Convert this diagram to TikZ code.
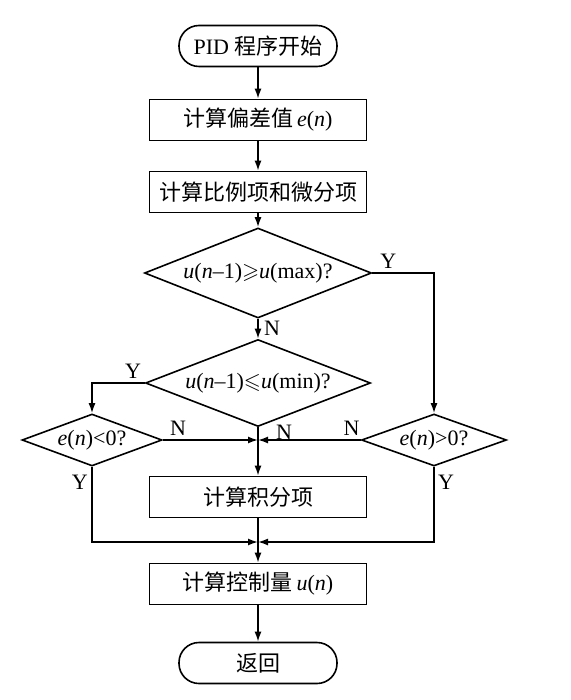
\documentclass[tikz,border=0pt]{standalone}
\usepackage{amssymb}
\usepackage{fontspec}
\setmainfont{Liberation Serif}
\newfontfamily\cjk{Noto Sans CJK SC}
\usetikzlibrary{arrows.meta,shapes.geometric}
\newcommand{\zh}[1]{{\cjk #1}}

\begin{document}
\begin{tikzpicture}[x=1pt, y=-1pt, line width=1.6pt,
  font=\fontsize{22}{26}\selectfont,
  proc/.style={draw, minimum width=217pt, minimum height=41pt, inner sep=0pt},
  term/.style={draw, rounded corners=20pt, minimum width=158pt, minimum height=41pt, inner sep=0pt},
  decide/.style={draw, diamond, inner sep=0pt},
  flow/.style={-{Latex[length=10pt,width=7pt]}}]
  \useasboundingbox (0,0) rectangle (570,700);

  % main column
  \node[term] (start) at (258,46) {PID \zh{程序开始}};
  \node[proc] (dev) at (258,120) {\zh{计算偏差值}\,\textit{e}(\textit{n})};
  \node[proc] (pd) at (258,192) {\zh{计算比例项和微分项}};
  \node[decide, aspect=2.52, minimum width=227pt, minimum height=90pt]
    (dmax) at (258,273) {\textit{u}(\textit{n}–1)$\geqslant$\textit{u}(max)?};
  \node[decide, aspect=2.59, minimum width=225pt, minimum height=87pt]
    (dmin) at (258,383) {\textit{u}(\textit{n}–1)$\leqslant$\textit{u}(min)?};
  \node[decide, aspect=2.7, inner xsep=-9pt, inner ysep=-1pt, minimum width=140pt, minimum height=52pt]
    (eneg) at (92,440) {\textit{e}(\textit{n})<0?};
  \node[decide, aspect=2.8, inner xsep=-9pt, inner ysep=-1pt, minimum width=145pt, minimum height=52pt]
    (epos) at (434,440) {\textit{e}(\textit{n})>0?};
  \node[proc] (integ) at (258,497) {\zh{计算积分项}};
  \node[proc] (ctrl) at (258,584) {\zh{计算控制量}\,\textit{u}(\textit{n})};
  \node[term] (ret) at (258,663) {\zh{返回}};

  \coordinate (j1) at (258,440);
  \coordinate (j2) at (258,542);

  % connectors
  \draw[flow] (start) -- (dev);
  \draw[flow] (dev) -- (pd);
  \draw[flow] (pd) -- (dmax);
  \draw[flow] (dmax.east) -| node[pos=0.13, above] {Y} (epos.north);
  \draw[flow] (dmax.south) -- node[right=2pt] {N} (dmin.north);
  \draw[flow] (dmin.west) -| node[pos=0.11, above] {Y} (eneg.north);
  \draw (dmin.south) -- node[right=14pt, pos=0.4] {N} (j1);
  \draw[flow] (eneg.east) -- node[pos=0.16, above] {N} (j1);
  \draw[flow] (epos.west) -- node[pos=0.09, above] {N} (j1);
  \draw[flow] (j1) -- (integ);
  \draw (integ) -- (j2);
  \draw[flow] (eneg.south) |- node[pos=0.1, left] {Y} (j2);
  \draw[flow] (epos.south) |- node[pos=0.1, right] {Y} (j2);
  \draw[flow] (j2) -- (ctrl);
  \draw[flow] (ctrl) -- (ret);
\end{tikzpicture}
\end{document}
